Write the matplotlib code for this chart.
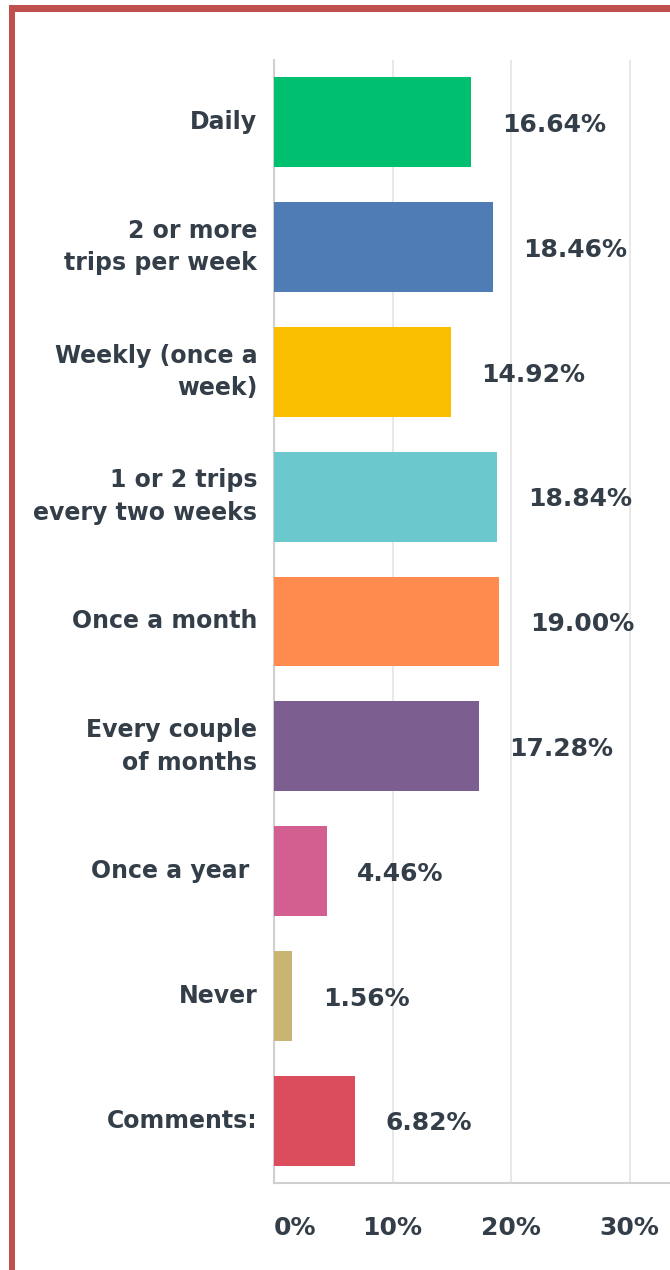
import matplotlib
matplotlib.use("Agg")
import matplotlib.pyplot as plt
import matplotlib.transforms as mtrans
from matplotlib.patches import Rectangle

categories = ["Daily", "2 or more\ntrips per week", "Weekly (once a\nweek)",
              "1 or 2 trips\nevery two weeks", "Once a month", "Every couple\nof months",
              "Once a year ", "Never", "Comments:"]
values = [16.64, 18.46, 14.92, 18.84, 19.00, 17.28, 4.46, 1.56, 6.82]
colors = ["#00BF6F", "#507CB6", "#F9BE00", "#6BC8CD", "#FF8B4F", "#7D5E90",
          "#D25F90", "#C9B571", "#DB4D5C"]
xticks = [0, 10, 20, 30]
xticklabels = ["0%", "10%", "20%", "30%"]

TXT = "#333E48"
W, H = 670, 1270
fig = plt.figure(figsize=(W / 100, H / 100), dpi=100)
fig.patch.set_facecolor("white")

ax = fig.add_axes([274 / W, 1 - 1183 / H, 1 - 274 / W, (1183 - 60) / H])
ypos = list(range(len(categories)))
ax.barh(ypos, values, height=0.72, color=colors, zorder=3)
ax.set_ylim(len(categories) - 0.5, -0.5)
ax.set_xlim(0, 33.4)

ax.set_xticks(xticks)
ax.set_xticklabels([])
ax.tick_params(axis="both", length=0)
ax.grid(axis="x", color="#E6E6E6", linewidth=1.3, zorder=0)
ax.set_axisbelow(True)
for s in ["top", "right"]:
    ax.spines[s].set_visible(False)
for s in ["left", "bottom"]:
    ax.spines[s].set_color("#D0D0D0")
    ax.spines[s].set_linewidth(1.5)

ax.set_yticks(ypos)
ax.set_yticklabels(categories, fontsize=17, fontweight="bold", color=TXT,
                   family="DejaVu Sans", linespacing=1.45, va="center")
ax.tick_params(axis="y", pad=12)

for i, v in enumerate(values):
    ax.annotate(f"{v:.2f}%", xy=(v, i), xytext=(22, -2), textcoords="offset points",
                ha="left", va="center", fontsize=18, fontweight="bold", color=TXT,
                family="DejaVu Sans")

shift = mtrans.ScaledTranslation(0, -45 / 100, fig.dpi_scale_trans)
for t, lab in zip(xticks, xticklabels):
    ha = "left" if t == 0 else "center"
    ax.text(t, 0, lab, transform=ax.get_xaxis_transform() + shift, ha=ha, va="center",
            fontsize=18, fontweight="bold", color=TXT, family="DejaVu Sans")

# red border
bc = "#C0504D"
fig.patches.append(Rectangle((9 / W, 0), 6 / W, 1 - 5 / H, transform=fig.transFigure,
                             facecolor=bc, edgecolor="none", zorder=10))
fig.patches.append(Rectangle((9 / W, 1 - 12 / H), 1 - 9 / W, 7 / H, transform=fig.transFigure,
                             facecolor=bc, edgecolor="none", zorder=10))

fig.savefig("out.png", dpi=100, facecolor="white")
